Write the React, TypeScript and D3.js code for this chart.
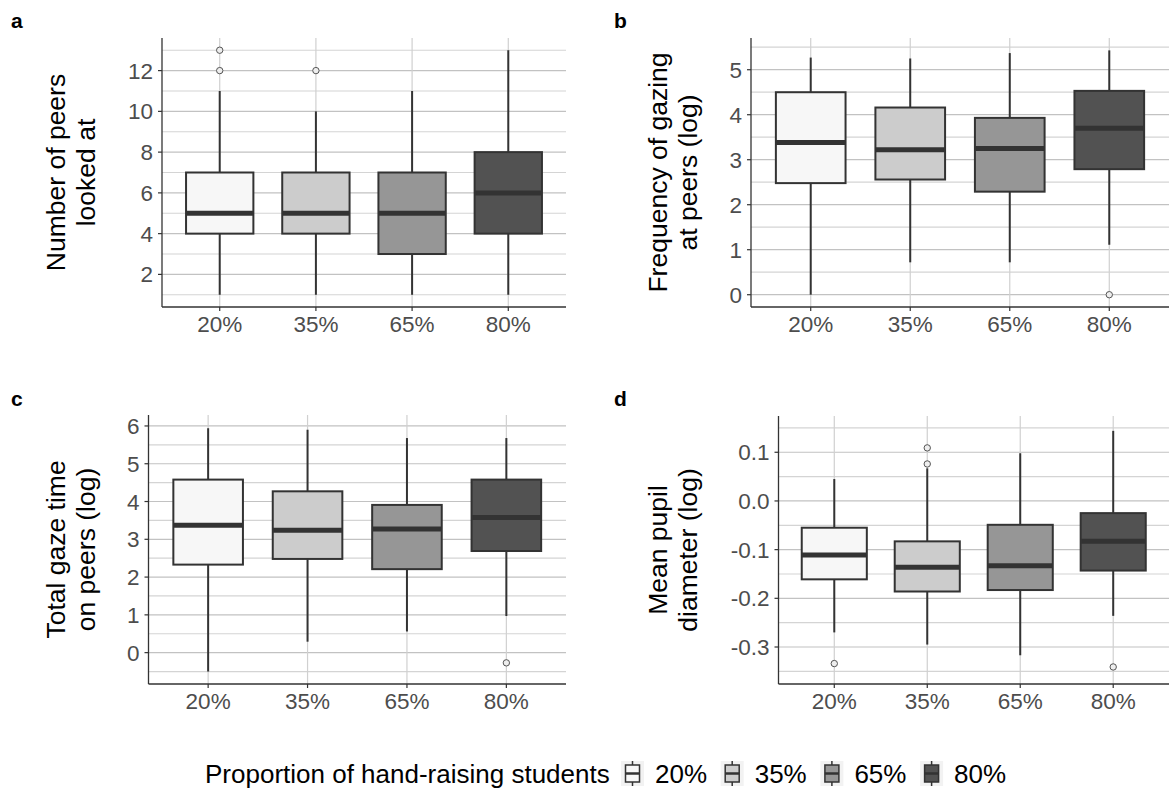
import { useEffect } from "react";
import * as d3 from "d3";

const categories = ["20%", "35%", "65%", "80%"];
const fills = ["#f7f7f7", "#cccccc", "#969696", "#525252"];

// a: number of peers looked at
const peersLow = [1, 1, 1, 1];
const peersQ1 = [4, 4, 3, 4];
const peersMed = [5, 5, 5, 6];
const peersQ3 = [7, 7, 7, 8];
const peersHigh = [11, 10, 11, 13];
const peersOut = [[12, 13], [12], [], []];
const peersTicks = [2, 4, 6, 8, 10, 12];

// b: frequency of gazing at peers (log)
const freqLow = [0, 0.72, 0.72, 1.11];
const freqQ1 = [2.48, 2.56, 2.29, 2.79];
const freqMed = [3.38, 3.22, 3.25, 3.7];
const freqQ3 = [4.5, 4.16, 3.93, 4.53];
const freqHigh = [5.27, 5.25, 5.37, 5.43];
const freqOut = [[], [], [], [0]];
const freqTicks = [0, 1, 2, 3, 4, 5];

// c: total gaze time on peers (log)
const timeLow = [-0.5, 0.29, 0.56, 0.97];
const timeQ1 = [2.33, 2.48, 2.21, 2.69];
const timeMed = [3.37, 3.24, 3.27, 3.58];
const timeQ3 = [4.58, 4.27, 3.91, 4.58];
const timeHigh = [5.94, 5.9, 5.68, 5.68];
const timeOut = [[], [], [], [-0.27]];
const timeTicks = [0, 1, 2, 3, 4, 5, 6];

// d: mean pupil diameter (log)
const pupilLow = [-0.27, -0.295, -0.317, -0.236];
const pupilQ1 = [-0.161, -0.186, -0.183, -0.143];
const pupilMed = [-0.111, -0.136, -0.133, -0.083];
const pupilQ3 = [-0.055, -0.083, -0.049, -0.025];
const pupilHigh = [0.045, 0.067, 0.098, 0.144];
const pupilOut = [[-0.334], [0.076, 0.109], [], [-0.341]];
const pupilTicks = [-0.3, -0.2, -0.1, 0.0, 0.1];

const FONT = "'Liberation Sans', Arial, sans-serif";

interface PanelProps {
  tag: string;
  title: string[];
  low: number[];
  q1: number[];
  med: number[];
  q3: number[];
  high: number[];
  out: number[][];
  ticks: number[];
  domain: [number, number];
  fmt: (v: number) => string;
  x0: number;
  x1: number;
  y0: number;
  y1: number;
  tagX: number;
  tagY: number;
  titleX: number;
}

function Panel(p: PanelProps) {
  const x = d3.scalePoint<string>().domain(categories).range([p.x0, p.x1]).padding(0.6);
  const y = d3.scaleLinear().domain(p.domain).range([p.y1, p.y0]);
  const bw = x.step() * 0.7;
  const step = p.ticks[1] - p.ticks[0];
  const minor = [p.ticks[0] - step / 2, ...p.ticks.map((t) => t + step / 2)].filter(
    (v) => v >= p.domain[0] && v <= p.domain[1]
  );
  const midY = (p.y0 + p.y1) / 2;

  return (
    <g>
      <text x={p.tagX} y={p.tagY} fontFamily={FONT} fontWeight="bold" fontSize={21} fill="#000">
        {p.tag}
      </text>
      {minor.map((v) => (
        <line key={"mn" + v} x1={p.x0} x2={p.x1} y1={y(v)} y2={y(v)} stroke="#d4d4d4" strokeWidth={1.2} />
      ))}
      {p.ticks.map((v) => (
        <line key={"mj" + v} x1={p.x0} x2={p.x1} y1={y(v)} y2={y(v)} stroke="#c2c2c2" strokeWidth={1.2} />
      ))}
      {categories.map((c) => (
        <line key={"vg" + c} x1={x(c)} x2={x(c)} y1={p.y0} y2={p.y1} stroke="#d0d0d0" strokeWidth={1.2} />
      ))}
      {categories.map((c, i) => {
        const cx = x(c)!;
        return (
          <g key={"box" + c}>
            <line x1={cx} x2={cx} y1={y(p.high[i])} y2={y(p.q3[i])} stroke="#333" strokeWidth={2} />
            <line x1={cx} x2={cx} y1={y(p.q1[i])} y2={y(p.low[i])} stroke="#333" strokeWidth={2} />
            <rect
              x={cx - bw / 2}
              width={bw}
              y={y(p.q3[i])}
              height={y(p.q1[i]) - y(p.q3[i])}
              fill={fills[i]}
              stroke="#333"
              strokeWidth={2}
            />
            <line x1={cx - bw / 2} x2={cx + bw / 2} y1={y(p.med[i])} y2={y(p.med[i])} stroke="#333" strokeWidth={5} />
            {p.out[i].map((o) => (
              <circle key={"o" + o} cx={cx} cy={y(o)} r={3.2} fill="#eeeeee" stroke="#555" strokeWidth={1} />
            ))}
          </g>
        );
      })}
      <line x1={p.x0} x2={p.x0} y1={p.y0} y2={p.y1} stroke="#333" strokeWidth={1.3} />
      <line x1={p.x0} x2={p.x1} y1={p.y1} y2={p.y1} stroke="#333" strokeWidth={1.3} />
      {p.ticks.map((v) => (
        <g key={"yt" + v}>
          <line x1={p.x0 - 4} x2={p.x0} y1={y(v)} y2={y(v)} stroke="#333" strokeWidth={1.2} />
          <text
            x={p.x0 - 9}
            y={y(v)}
            dy="0.36em"
            textAnchor="end"
            fontFamily={FONT}
            fontSize={22.5}
            fill="#4d4d4d"
          >
            {p.fmt(v)}
          </text>
        </g>
      ))}
      {categories.map((c) => (
        <g key={"xt" + c}>
          <line x1={x(c)} x2={x(c)} y1={p.y1} y2={p.y1 + 4} stroke="#333" strokeWidth={1.2} />
          <text x={x(c)} y={p.y1 + 25} textAnchor="middle" fontFamily={FONT} fontSize={22.5} fill="#4d4d4d">
            {c}
          </text>
        </g>
      ))}
      {p.title.map((t, i) => (
        <text
          key={"tt" + i}
          transform={`translate(${p.titleX + i * 30},${midY}) rotate(-90)`}
          textAnchor="middle"
          fontFamily={FONT}
          fontSize={26.5}
          fill="#000"
        >
          {t}
        </text>
      ))}
    </g>
  );
}

const intFmt = (v: number) => String(v);
const oneDec = (v: number) => v.toFixed(1);

export default function App() {
  useEffect(() => {
    document.body.style.margin = "0";
  }, []);

  const keyX = d3.scaleLinear().domain([0, 1]).range([621, 720.7]);

  return (
    <svg width={1169} height={789} style={{ display: "block", background: "#fff" }}>
      <Panel
        tag="a"
        title={["Number of peers", "looked at"]}
        low={peersLow}
        q1={peersQ1}
        med={peersMed}
        q3={peersQ3}
        high={peersHigh}
        out={peersOut}
        ticks={peersTicks}
        domain={[0.4, 13.6]}
        fmt={intFmt}
        x0={162}
        x1={566}
        y0={38}
        y1={307}
        tagX={11}
        tagY={28}
        titleX={65}
      />
      <Panel
        tag="b"
        title={["Frequency of gazing", "at peers (log)"]}
        low={freqLow}
        q1={freqQ1}
        med={freqMed}
        q3={freqQ3}
        high={freqHigh}
        out={freqOut}
        ticks={freqTicks}
        domain={[-0.273, 5.705]}
        fmt={intFmt}
        x0={751}
        x1={1169}
        y0={38}
        y1={307}
        tagX={614}
        tagY={28}
        titleX={667}
      />
      <Panel
        tag="c"
        title={["Total gaze time", "on peers (log)"]}
        low={timeLow}
        q1={timeQ1}
        med={timeMed}
        q3={timeQ3}
        high={timeHigh}
        out={timeOut}
        ticks={timeTicks}
        domain={[-0.83, 6.29]}
        fmt={intFmt}
        x0={148.5}
        x1={566}
        y0={415}
        y1={684}
        tagX={11}
        tagY={406}
        titleX={65}
      />
      <Panel
        tag="d"
        title={["Mean pupil", "diameter (log)"]}
        low={pupilLow}
        q1={pupilQ1}
        med={pupilMed}
        q3={pupilQ3}
        high={pupilHigh}
        out={pupilOut}
        ticks={pupilTicks}
        domain={[-0.376, 0.1745]}
        fmt={oneDec}
        x0={778.5}
        x1={1169}
        y0={416}
        y1={684}
        tagX={614}
        tagY={406}
        titleX={667}
      />
      <g>
        <text x={205} y={783} fontFamily={FONT} fontSize={26} fill="#000">
          Proportion of hand-raising students
        </text>
        {categories.map((c, i) => {
          const kx = keyX(i);
          const cx = kx + 11.5;
          return (
            <g key={"lg" + c}>
              <rect x={kx} y={761} width={23} height={25} fill="#f2f2f2" />
              <line x1={cx} x2={cx} y1={761} y2={786} stroke="#333" strokeWidth={1.5} />
              <rect x={cx - 7} y={765} width={14} height={17} fill={fills[i]} stroke="#333" strokeWidth={1.5} />
              <line x1={cx - 7} x2={cx + 7} y1={773.5} y2={773.5} stroke="#333" strokeWidth={2.5} />
              <text x={kx + 34} y={783} fontFamily={FONT} fontSize={26} fill="#000">
                {c}
              </text>
            </g>
          );
        })}
      </g>
    </svg>
  );
}
